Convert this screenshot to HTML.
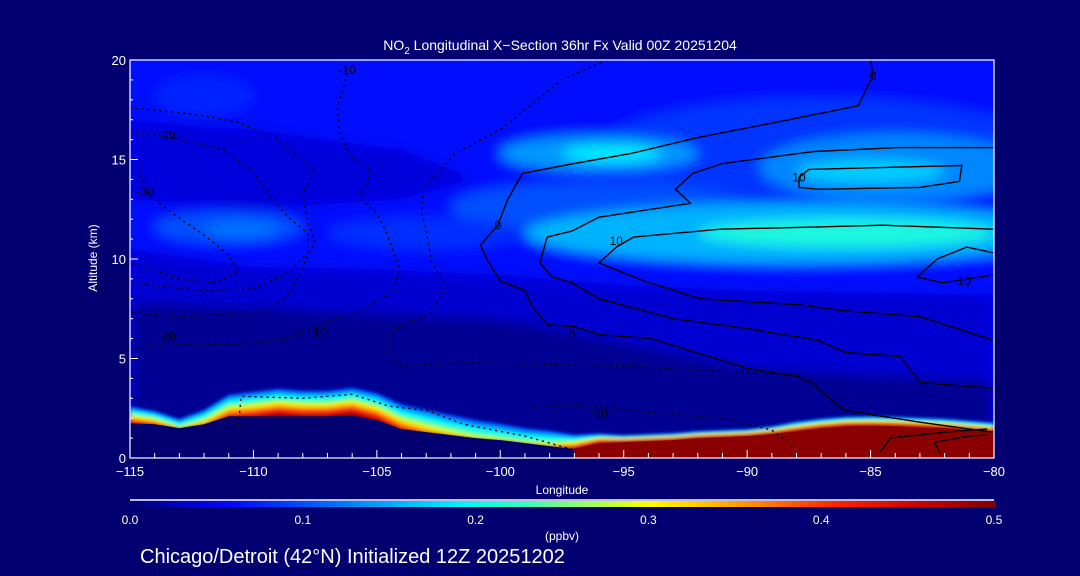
<!DOCTYPE html>
<html><head><meta charset="utf-8"><style>
html,body{margin:0;padding:0;background:#020070;}
svg{display:block;font-family:"Liberation Sans",sans-serif;}
</style></head><body>
<svg id="chart" width="1080" height="576" viewBox="0 0 1080 576" xmlns="http://www.w3.org/2000/svg">
<defs>
<filter id="blurF" x="-10%" y="-10%" width="120%" height="120%"><feGaussianBlur stdDeviation="6"/></filter>
<filter id="blurS" x="-5%" y="-50%" width="110%" height="200%"><feGaussianBlur stdDeviation="1.6"/></filter>
<clipPath id="plotClip"><rect x="130" y="60" width="864" height="398"/></clipPath>
<linearGradient id="cbarGrad" x1="0" x2="1" y1="0" y2="0"></linearGradient>
</defs>
<rect x="0" y="0" width="1080" height="576" fill="#020070"/>
<text x="560" y="50" fill="#fff" font-size="14" text-anchor="middle">NO<tspan font-size="10" dy="4">2</tspan><tspan dy="-4"> Longitudinal X−Section 36hr  Fx Valid 00Z 20251204</tspan></text>
<g id="plot" clip-path="url(#plotClip)">
  <g id="field" filter="url(#blurF)"></g>
  <g id="strip" filter="url(#blurS)"></g>
  <g id="ground"></g>
  <g id="contours"></g>
</g>
<g id="axes"></g>
<text x="97" y="258" fill="#fff" font-size="12" text-anchor="middle" transform="rotate(-90 97 258)">Altitude (km)</text>
<text x="562" y="494" fill="#fff" font-size="12" text-anchor="middle">Longitude</text>
<line x1="130" y1="500" x2="994" y2="500" stroke="#fff" stroke-width="1.5"/>
<rect x="130" y="501" width="866" height="6" fill="url(#cbarGrad)"/>
<g id="cbarLabels"></g>
<text x="562" y="540" fill="#fff" font-size="12" text-anchor="middle">(ppbv)</text>
<text x="140" y="563" fill="#fff" font-size="20">Chicago/Detroit (42°N) Initialized 12Z 20251202</text>
</svg>
<script>
// ---- data ----
const lonTicks = [-115,-110,-105,-100,-95,-90,-85,-80];
const altTicks = [0,5,10,15,20];
const cbarTicks = [0.0,0.1,0.2,0.3,0.4,0.5];
const lons = [-115,-114,-113,-112,-111,-110,-109,-108,-107,-106,-105,-104,-103,-102,-101,-100,-99,-98,-97,-96,-95,-94,-93,-92,-91,-90,-89,-88,-87,-86,-85,-84,-83,-82,-81,-80];
const terrainAlt = [1.75,1.7,1.5,1.7,2.1,2.1,2.1,2.1,2.1,2.15,1.9,1.45,1.3,1.15,1.0,0.9,0.75,0.6,0.45,0.35,0.3,0.3,0.3,0.3,0.3,0.3,0.3,0.3,0.3,0.3,0.3,0.3,0.3,0.3,0.3,0.3];
const surfaceConc = [0.45,0.4,0.3,0.35,0.42,0.45,0.5,0.47,0.47,0.5,0.47,0.42,0.36,0.32,0.29,0.28,0.28,0.31,0.43,0.5,0.5,0.5,0.5,0.5,0.5,0.5,0.5,0.5,0.5,0.5,0.5,0.5,0.5,0.5,0.5,0.5];
const layerDepth = [1.0,0.8,0.6,0.9,1.3,1.45,1.6,1.5,1.5,1.6,1.6,1.5,1.4,1.3,1.2,1.1,1.0,1.0,0.8,0.55,0.4,0.4,0.4,0.4,0.4,0.4,0.45,0.55,0.55,0.55,0.55,0.55,0.55,0.55,0.55,0.55];
const saturatedTop = [null,null,null,null,null,null,null,null,null,null,null,null,null,null,null,null,null,null,0.5,0.75,0.8,0.85,0.9,1.0,1.05,1.1,1.2,1.35,1.5,1.6,1.62,1.6,1.55,1.5,1.4,1.3];
const stripLevels = [0.07,0.1,0.13,0.16,0.2,0.25,0.3,0.35,0.4,0.45];
// field blobs: [lon, alt, lonRadius, altRadius, conc]
const fieldBlobs = [
 [-87,15.5,9,2.6,0.085],[-96,12.6,6,1.3,0.1],[-84,14.6,5.5,1.7,0.13],[-85,14.4,3,0.6,0.17],
 [-96,15.3,4,0.9,0.14],[-95.5,15.3,2,0.4,0.19],[-88,11.3,11,1.5,0.155],[-86,11.3,6,0.7,0.21],
 [-111,11.6,3,0.8,0.1],[-110.5,11.5,1.5,0.4,0.12],[-112,18.2,2,1,0.075],[-103,11.3,4,0.8,0.08]
];
const darkRegions = [
 {conc:0.035, pts:[[-115,0],[-115,10.5],[-110,9.6],[-105,9.5],[-100,9.2],[-95,8.7],[-90,8.4],[-80,8.2],[-80,0]]},
 {conc:0.04, pts:[[-115,17],[-110,16.5],[-104,15.5],[-101,14],[-104,13],[-110,12.5],[-115,13]]},
 {conc:0.012, pts:[[-115,0],[-115,7.8],[-108,7.4],[-100,7],[-95,5.8],[-90,4.5],[-80,3.8],[-80,0]]}
];
// contours: [level, dashed, points[[lon,alt]...]]
const contourLines = [
 [0,false,[[-85.0,20],[-84.9,19.2],[-85.5,17.7],[-88.3,17.0],[-92.0,16.1],[-94.7,15.3],[-97.0,14.8],[-99.1,14.3],[-99.7,13.0],[-100.1,11.7],[-100.8,10.7],[-100.5,9.9],[-100.0,8.9],[-99.0,8.4],[-98.7,7.6],[-98.1,6.7],[-97.0,6.6],[-96.0,6.2],[-93.9,6.0],[-90.0,4.5],[-88.0,4.1],[-87.4,3.8],[-86.1,2.4],[-83.0,1.8],[-80.7,1.4],[-80,1.3]]],
 [10,false,[[-80,15.6],[-83.9,15.6],[-87.3,15.4],[-91.0,14.8],[-92.2,14.3],[-92.9,13.5],[-92.3,12.8],[-96.0,12.1],[-97.1,11.4],[-98.1,11.1],[-98.4,9.8],[-97.9,9.1],[-97.1,8.8],[-96.0,8.0],[-93.0,7.0],[-90.0,6.5],[-87.1,5.9],[-86.0,5.3],[-83.8,5.1],[-83.0,3.8],[-80,3.5]]],
 [10,false,[[-80,11.5],[-84.5,11.7],[-87.5,11.6],[-91.1,11.5],[-94.6,11.1],[-95.3,10.6],[-96.0,9.8],[-94.2,8.9],[-91.9,8.0],[-87.9,7.7],[-86.1,7.4],[-83.0,7.1],[-81.0,6.3],[-80,5.9]]],
 [10,false,[[-87.9,13.6],[-87.9,14.1],[-87.5,14.5],[-81.3,14.7],[-81.4,13.9],[-83.0,13.6],[-87.1,13.5],[-87.9,13.6]]],
 [10,false,[[-80,10.3],[-81.1,10.6],[-82.3,10.0],[-83.1,9.1],[-82.1,8.8],[-80,9.2]]],
 [10,false,[[-84.6,0.3],[-84.2,1.0],[-81.5,1.35],[-80.3,1.45]]],
 [20,false,[[-82.2,0.3],[-82.4,0.8],[-81,1.1],[-80.3,1.15]]],
 [-10,true,[[-106.2,19.3],[-106.6,17.6],[-106.5,16.3],[-106.1,15.2],[-105.2,14.4],[-105.7,13.1],[-105.0,12.3],[-104.6,11.3],[-104.1,9.6],[-104.3,8.4],[-105.6,7.4],[-106.9,6.9],[-107.8,6.4],[-108.9,5.9],[-110.5,5.7],[-113,5.7],[-115,5.5]]],
 [-10,true,[[-95.7,20],[-97.5,19],[-100,16.5],[-101.8,15.3],[-103.1,13.6],[-103.2,12.3],[-103,11.5],[-102.8,9.9],[-102.2,8.6],[-102.8,7.3],[-104.5,6.3],[-104.5,5.3],[-104.1,4.6],[-101.5,4.8],[-94.7,4.6],[-91.9,4.4],[-88,4.2]]],
 [-20,true,[[-115,17.6],[-112.6,17.3],[-110.7,16.9],[-109.1,16.1],[-107.5,14.4],[-108,13.3],[-107.8,11.9],[-107.5,10.9],[-108,9.6],[-108.5,8.3],[-109.5,7.3],[-113,7.1],[-115,7.3]]],
 [-20,true,[[-115,16.4],[-113.3,16.1],[-111.2,15.5],[-110,14.4],[-109.4,13.3],[-108.6,12.1],[-107.8,11.3],[-107.8,10.3],[-108.6,9.3],[-110,8.5],[-112,8.4],[-115,8.8]]],
 [-30,true,[[-114.7,14.8],[-114.4,13.4],[-113.3,12.3],[-112,11.2],[-111,10.2],[-110.6,9.4],[-111.5,8.8],[-113,9.0],[-115,9.8]]],
 [-10,true,[[-98.6,2.5],[-97,2.7],[-94,2.3],[-91,2.0],[-89,1.4],[-88,0.5]]],
 [-10,true,[[-110.6,1.7],[-110.5,3.1],[-108,3.0],[-106,3.2],[-104.5,2.6],[-103,2.4],[-101.5,1.7],[-99,1.1],[-97,0.4]]]
];
const contourLabels = [["0",-100.1,11.7],["0",-84.9,19.2],["10",-95.3,10.9],["10",-87.9,14.1],["10",-81.2,8.9],["-10",-106.2,19.5],["-20",-113.5,16.2],["-30",-114.4,13.4],["-20",-113.5,6.1],["10",-107.3,6.3],["-10",-96,2.2],["0",-97.1,6.2]];

// ---- scales ----
const X0=130,X1=994,Y0=60,Y1=458;
const xs = lon => X0 + (lon+115)/35*(X1-X0);
const ys = alt => Y1 - alt/20*(Y1-Y0);
const cmapStops = [[0,[0,0,110]],[0.03,[0,0,200]],[0.06,[0,10,255]],[0.1,[0,80,255]],[0.15,[0,170,255]],[0.19,[0,240,255]],[0.23,[60,255,190]],[0.27,[170,255,80]],[0.3,[255,255,0]],[0.35,[255,160,0]],[0.41,[255,30,0]],[0.46,[200,0,0]],[0.5,[128,0,0]]];
function cmap(v){
  v=Math.max(0,Math.min(0.5,v));
  for(let i=1;i<cmapStops.length;i++){
    const a=cmapStops[i-1],b=cmapStops[i];
    if(v<=b[0]){const t=(v-a[0])/(b[0]-a[0]);const c=a[1].map((q,k)=>Math.round(q+(b[1][k]-q)*t));return `rgb(${c[0]},${c[1]},${c[2]})`;}
  }
  return 'rgb(128,0,0)';
}
const NS='http://www.w3.org/2000/svg';
function mk(tag,attrs,parent){const e=document.createElementNS(NS,tag);for(const k in attrs)e.setAttribute(k,attrs[k]);parent.appendChild(e);return e;}
const ptsStr = arr => arr.map(p=>xs(p[0]).toFixed(1)+','+ys(p[1]).toFixed(1)).join(' ');

// colorbar gradient
const grad=document.getElementById('cbarGrad');
for(let i=0;i<=50;i++){mk('stop',{offset:(i/50),'stop-color':cmap(i/100)},grad);}
const cbl=document.getElementById('cbarLabels');
cbarTicks.forEach(v=>{const t=mk('text',{x:X0+v/0.5*(X1-X0),y:524,fill:'#fff','font-size':12,'text-anchor':'middle'},cbl);


t.textContent=v.toFixed(1);});

// field
const field=document.getElementById('field');
const base=mk('rect',{x:100,y:30,width:930,height:460,fill:cmap(0.062)},field);


darkRegions.forEach(r=>{const p=mk('polygon',{points:ptsStr(r.pts),fill:cmap(r.conc)},field);

});
fieldBlobs.forEach(b=>{const e=mk('ellipse',{cx:xs(b[0]),cy:ys(b[1]),rx:b[2]/35*(X1-X0),ry:b[3]/20*(Y1-Y0),fill:cmap(b[4])},field);

});

// surface strip
const strip=document.getElementById('strip');
const baseAlt = lons.map((l,i)=>saturatedTop[i]!==null?saturatedTop[i]:terrainAlt[i]);
stripLevels.forEach(L=>{
  const top=lons.map((l,i)=>{const c=surfaceConc[i];const off=c>L?layerDepth[i]*(1-L/c):0;return [l,baseAlt[i]+off];});
  const poly=top.concat([[-80,0],[-115,0]]);
  const p=mk('polygon',{points:ptsStr(poly),fill:cmap(Math.min(0.5,L+0.03))},strip);
  
  
});
// saturated red
const satPts=[];lons.forEach((l,i)=>{if(saturatedTop[i]!==null)satPts.push([l,saturatedTop[i]]);});
const sat=mk('polygon',{points:ptsStr(satPts.concat([[-80,0],[satPts[0][0],0]])),fill:'#8b0000'},document.getElementById('ground'));


// terrain
const terr=lons.map((l,i)=>[l,terrainAlt[i]]).filter((p,i)=>saturatedTop[i]===null||lons[i]<=-97);
const g=mk('polygon',{points:ptsStr(terr.concat([[-97,0],[-115,0]])),fill:'#020070'},document.getElementById('ground'));



// contours
const cg=document.getElementById('contours');
contourLines.forEach(c=>{
  const pl=mk('polyline',{points:ptsStr(c[2]),fill:'none',stroke:'#000','stroke-width':c[1]?1.4:1.4,'stroke-dasharray':c[1]?'1 5':'none','stroke-linecap':'round'},cg);
  
  
});
contourLabels.forEach(l=>{const t=mk('text',{x:xs(l[1]),y:ys(l[2])+4,fill:'#000','font-size':12,'text-anchor':'middle'},cg);


t.textContent=l[0];});

// axes
const ax=document.getElementById('axes');
const fr=mk('rect',{x:X0,y:Y0,width:X1-X0,height:Y1-Y0,fill:'none',stroke:'#fff','stroke-width':1.2},ax);


for(let l=-115;l<=-80;l++){const tk=mk('line',{x1:xs(l),x2:xs(l),y1:Y1,y2:Y1-(l%5===0?8:5),stroke:'#fff'},ax);

}
for(let a=0;a<=20;a++){const tk=mk('line',{x1:X0,x2:X0+(a%5===0?8:3),y1:ys(a),y2:ys(a),stroke:'#fff'},ax);

}
lonTicks.forEach(l=>{const t=mk('text',{x:xs(l),y:476,fill:'#fff','font-size':13,'text-anchor':'middle'},ax);


t.textContent=String(l).replace('-','−');});
altTicks.forEach(a=>{const t=mk('text',{x:X0-4,y:ys(a)+5,fill:'#fff','font-size':13,'text-anchor':'end'},ax);


t.textContent=a;});
</script>
</body></html>
